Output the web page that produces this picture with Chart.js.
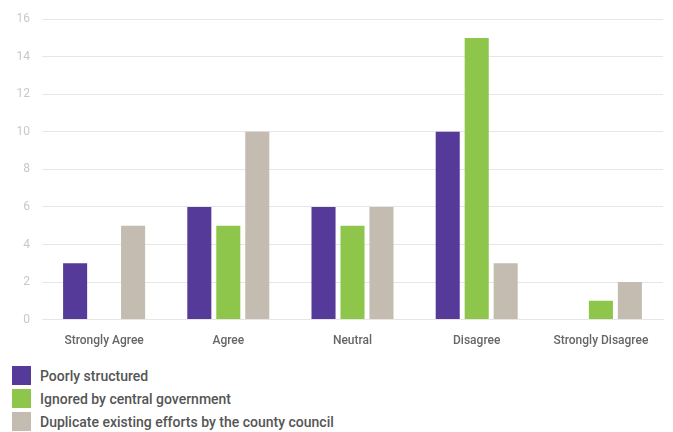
<!DOCTYPE html>
<html>
<head>
<meta charset="utf-8">
<script src="https://cdn.jsdelivr.net/npm/chart.js@4/dist/chart.umd.min.js"></script>
<style>
  body { margin: 0; background: #fff; font-family: Roboto, sans-serif; }
  #wrap { position: relative; width: 673px; height: 354px; }
  #legend { margin: 10px 0 0 12px; }
  .item { display: flex; align-items: center; height: 23px; font-size: 14px; font-weight: 500; color: #555; }
  .box { width: 19px; height: 19px; margin-right: 9px; }
</style>
</head>
<body>
<div id="wrap"><canvas id="chart"></canvas></div>
<div id="legend"></div>
<script>
/* ================= DATA ================= */

const categories = ["Strongly Agree", "Agree", "Neutral", "Disagree", "Strongly Disagree"];
const poorlyStructured = [3, 6, 6, 10, 0];
const ignoredByCentral = [0, 5, 5, 15, 1];
const duplicateEfforts = [5, 10, 6, 3, 2];
const seriesNames = [
  "Poorly structured",
  "Ignored by central government",
  "Duplicate existing efforts by the county council"
];
const yTicks = [0, 2, 4, 6, 8, 10, 12, 14, 16];

const colors = ["#553a99", "#8dc64a", "#c4bcb0"];

/* ================= CHART ================= */

const ctx = document.getElementById("chart").getContext("2d");

const chart = new Chart(ctx, {
  type: "bar",
  data: {
    labels: categories,
    datasets: [poorlyStructured, ignoredByCentral, duplicateEfforts].map((d, i) => ({
      label: seriesNames[i],
      data: d,
      backgroundColor: colors[i],
      categoryPercentage: 0.7,
      barPercentage: 0.83
    }))
  },
  options: {
    responsive: true,
    maintainAspectRatio: false,
    animation: false,
    layout: { padding: { top: 9, right: 10, left: 0, bottom: 0 } },
    plugins: {
      legend: { display: false },
      tooltip: { enabled: false }
    },
    scales: {
      x: {
        grid: { display: false },
        border: { color: "#e6e6e6", width: 1 },
        ticks: {
          color: "#666",
          font: { family: "Roboto", size: 12, weight: 500 },
          padding: 6
        }
      },
      y: {
        min: 0,
        max: 16,
        afterBuildTicks: (axis) => {
          axis.ticks = yTicks.map(v => ({ value: v }));
        },
        afterFit: (axis) => { axis.width = 42; },
        grid: { color: "#e6e6e6", drawTicks: false },
        border: { display: false },
        ticks: {
          color: "#c8c8c8",
          font: { family: "Roboto", size: 12 },
          padding: 12
        }
      }
    }
  }
});

/* ================= LEGEND ================= */

const legend = document.getElementById("legend");
chart.data.datasets.forEach(ds => {
  const row = document.createElement("div");
  row.className = "item";
  const box = document.createElement("span");
  box.className = "box";
  box.style.background = ds.backgroundColor;
  row.appendChild(box);
  row.appendChild(document.createTextNode(ds.label));
  legend.appendChild(row);
});
</script>
</body>
</html>
